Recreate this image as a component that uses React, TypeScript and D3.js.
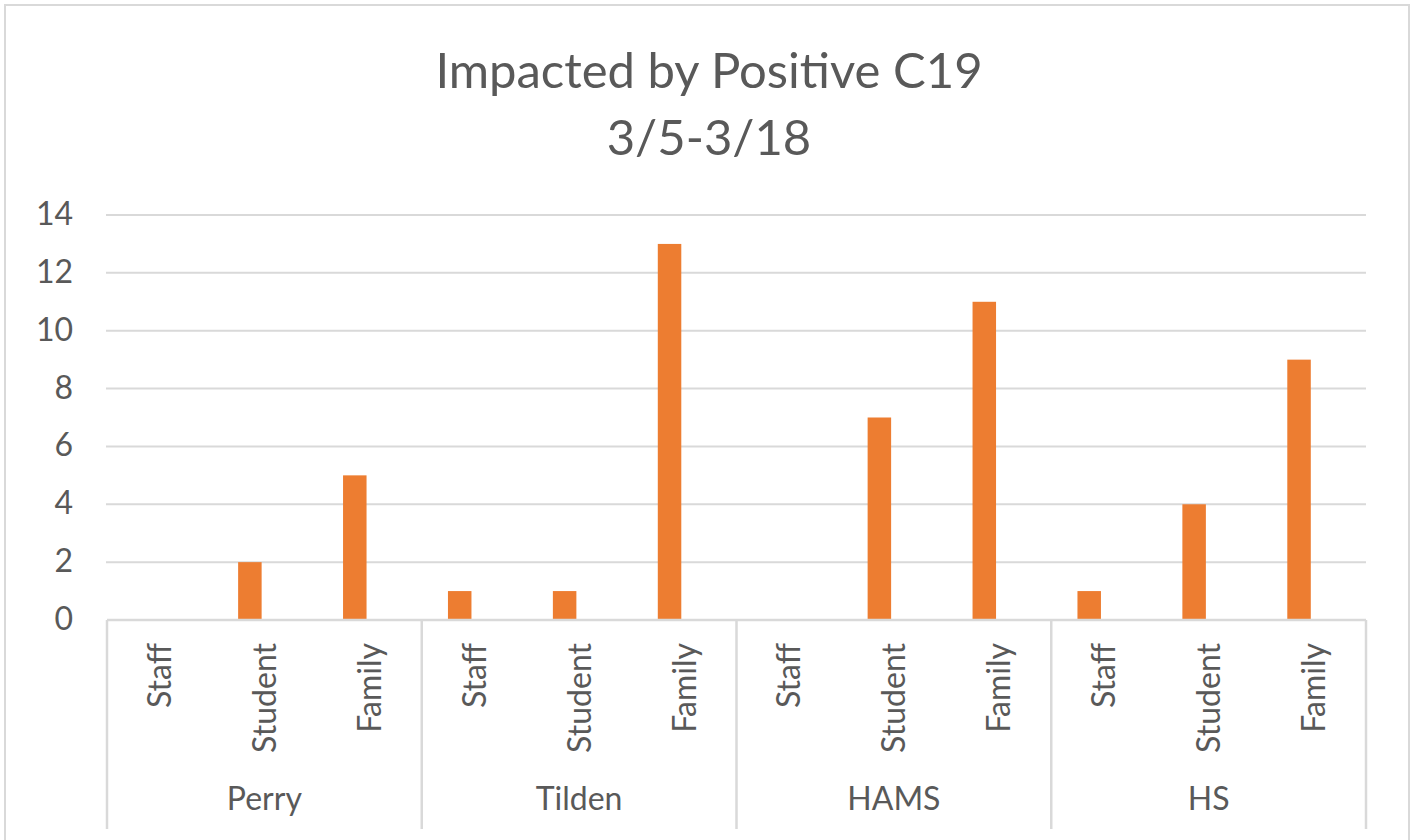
import React from "react";
import * as d3 from "d3";

const title = ["Impacted by Positive C19", "3/5-3/18"];
const groups = ["Perry", "Tilden", "HAMS", "HS"];
const subCategories = ["Staff", "Student", "Family"];
const perryValues = [0, 2, 5];
const tildenValues = [1, 1, 13];
const hamsValues = [0, 7, 11];
const hsValues = [1, 4, 9];
const yTicks = [0, 2, 4, 6, 8, 10, 12, 14];

const W = 1421;
const H = 840;
const FONT = "Lato, 'Liberation Sans', sans-serif";
const TEXT = "#595959";
const GRID = "#d9d9d9";
const BAR = "#ED7D31";

export default function App() {
  const seriesByGroup = [perryValues, tildenValues, hamsValues, hsValues];
  const rows = groups.flatMap((g, gi) =>
    subCategories.map((c, ci) => ({ key: `${g}-${c}`, group: g, cat: c, value: seriesByGroup[gi][ci] }))
  );

  const left = 107;
  const right = 1366;
  const top = 215;
  const bottom = 620;
  const axisBottom = 829;

  const x = d3.scaleBand<string>().domain(rows.map((r) => r.key)).range([left, right]).padding(0);
  const gx = d3.scaleBand<string>().domain(groups).range([left, right]).padding(0);
  const y = d3.scaleLinear().domain([0, 14]).range([bottom, top]);
  const bw = x.bandwidth();
  const barW = 23.5;
  const barShift = -14.5;

  return (
    <svg width={W} height={H} style={{ position: "absolute", left: 0, top: 0, background: "#fff" }} fontFamily={FONT}>
      <rect x={0} y={0} width={W} height={H} fill="#fff" />
      <rect x={5} y={5} width={1404} height={850} fill="none" stroke={GRID} strokeWidth={2} />
      <text x={709} y={88} textAnchor="middle" fontSize={49} fill={TEXT}>{title[0]}</text>
      <text x={709} y={155} textAnchor="middle" fontSize={49} fill={TEXT}>{title[1]}</text>

      {yTicks.map((t) => (
        <g key={t}>
          {t > 0 && <line x1={left - 1} x2={right} y1={y(t)} y2={y(t)} stroke={GRID} strokeWidth={2} />}
          <text x={73} y={y(t) + 10} textAnchor="end" fontSize={32} fill={TEXT}>{t}</text>
        </g>
      ))}

      {rows.map((r) => {
        const cx = (x(r.key) as number) + bw / 2;
        return (
          <g key={r.key}>
            {r.value > 0 && (
              <rect x={cx + barShift - barW / 2} y={y(r.value)} width={barW} height={y(0) - y(r.value)} fill={BAR} />
            )}
            <text
              transform={`translate(${cx},643) rotate(-90)`}
              dy="0.36em"
              textAnchor="end"
              fontSize={32}
              fill={TEXT}
            >
              {r.cat}
            </text>
          </g>
        );
      })}

      <line x1={left} x2={right} y1={bottom} y2={bottom} stroke={GRID} strokeWidth={2.5} />
      {groups.map((g) => (
        <line key={g} x1={gx(g) as number} x2={gx(g) as number} y1={bottom} y2={axisBottom} stroke={GRID} strokeWidth={2.5} />
      ))}
      <line x1={right} x2={right} y1={bottom} y2={axisBottom} stroke={GRID} strokeWidth={2.5} />
      {groups.map((g) => (
        <text key={g} x={(gx(g) as number) + gx.bandwidth() / 2} y={810} textAnchor="middle" fontSize={32} fill={TEXT}>
          {g}
        </text>
      ))}
    </svg>
  );
}
